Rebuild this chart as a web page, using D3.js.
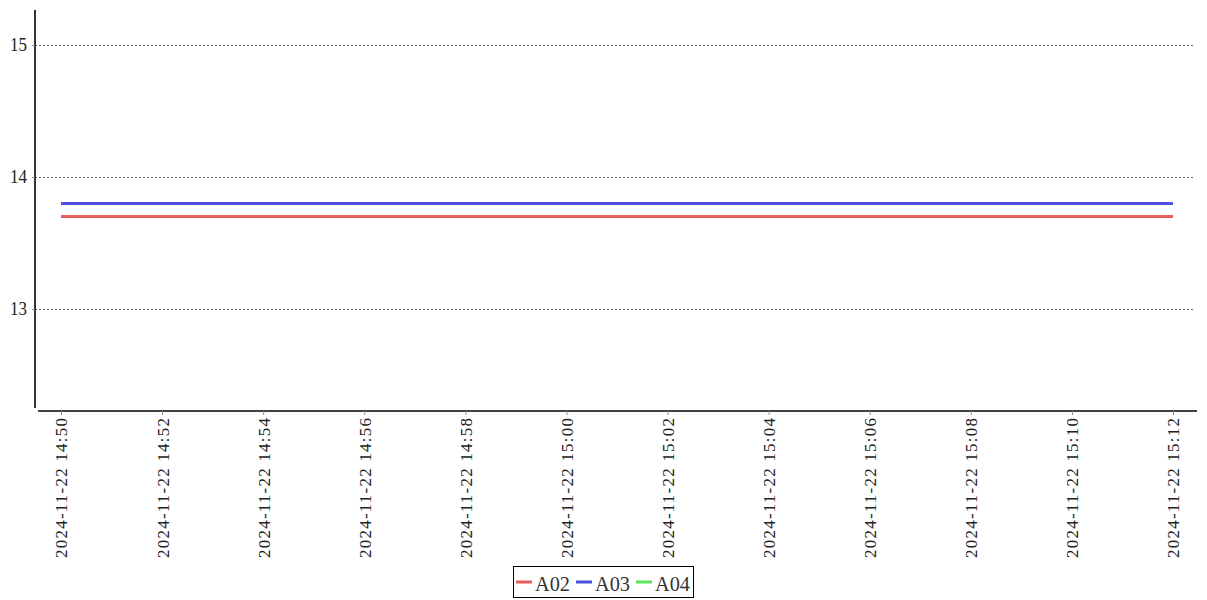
<!DOCTYPE html>
<html><head><meta charset="utf-8">
<script src="https://cdn.jsdelivr.net/npm/d3@7"></script>
<style>body{margin:0;background:#fff}svg{display:block}text{font-family:"Liberation Serif","Times New Roman",serif}</style>
</head><body><svg id="c" width="1207" height="600"></svg>
<script>
const times = ["2024-11-22 14:50","2024-11-22 14:52","2024-11-22 14:54","2024-11-22 14:56","2024-11-22 14:58","2024-11-22 15:00","2024-11-22 15:02","2024-11-22 15:04","2024-11-22 15:06","2024-11-22 15:08","2024-11-22 15:10","2024-11-22 15:12"];
const seriesNames = ["A02","A03","A04"];
const seriesColors = ["#e85c5c","#5050e0","#5ae65a"];
const a02 = [13.7,13.7,13.7,13.7,13.7,13.7,13.7,13.7,13.7,13.7,13.7,13.7];
const a03 = [13.8,13.8,13.8,13.8,13.8,13.8,13.8,13.8,13.8,13.8,13.8,13.8];
const a04 = [];
const yTicks = [13,14,15];

const parse = d3.timeParse("%Y-%m-%d %H:%M");
const fmt = d3.timeFormat("%Y-%m-%d  %H:%M");
const svg = d3.select("#c");
const x = d3.scaleTime().domain([parse(times[0]), parse(times[times.length-1])]).range([61,1173]);
const y = d3.scaleLinear().domain([12.25,15.265]).range([408,10]);

// grid
svg.append("g").selectAll("line").data(yTicks).join("line")
  .attr("x1",35).attr("x2",1195).attr("y1",d=>y(d)+0.5).attr("y2",d=>y(d)+0.5)
  .attr("stroke","#666").attr("stroke-width",1).attr("stroke-dasharray","2,2");

// y axis
const ya = svg.append("g").attr("transform","translate(35,0)")
  .call(d3.axisLeft(y).tickValues(yTicks).tickSize(3).tickFormat(d3.format("d")));
ya.select(".domain").attr("d","M0,10V408").attr("stroke","#000").attr("stroke-width",1.6);
ya.selectAll(".tick line").attr("stroke","#888");
ya.selectAll("text").attr("font-size",18).attr("fill","#222").attr("x",-8)
  .attr("textLength",17).attr("lengthAdjust","spacingAndGlyphs");

// x axis
const xa = svg.append("g").attr("transform","translate(0,411)")
  .call(d3.axisBottom(x).tickValues(times.map(parse)).tickSize(4).tickFormat(fmt));
xa.select(".domain").attr("d","M38,0H1197").attr("stroke","#000").attr("stroke-width",1.6);
xa.selectAll(".tick line").attr("stroke","#888");
xa.selectAll("text").attr("font-size",17).attr("fill","#222")
  .attr("transform","rotate(-90)").attr("text-anchor","end")
  .attr("x",-7).attr("y",0).attr("dy","0.35em")
  .attr("textLength",140).attr("lengthAdjust","spacing");

// lines
const data = [a02,a03,a04];
const line = d3.line().x((d,i)=>x(parse(times[i]))).y(d=>y(d));
data.forEach((vals,k)=>{
  if(!vals.length) return;
  svg.append("path").datum(vals).attr("d",line).attr("fill","none")
    .attr("stroke",seriesColors[k]).attr("stroke-width",3);
});

// legend
const lg = svg.append("g");
lg.append("rect").attr("x",513.5).attr("y",566.5).attr("width",180).attr("height",31)
  .attr("fill","#fff").attr("stroke","#000").attr("stroke-width",1);
const lx = [516,576,636];
seriesNames.forEach((n,i)=>{
  lg.append("line").attr("x1",lx[i]).attr("x2",lx[i]+16).attr("y1",582).attr("y2",582)
    .attr("stroke",seriesColors[i]).attr("stroke-width",3);
  lg.append("text").attr("x",lx[i]+19).attr("y",591).attr("font-size",22).attr("fill","#333")
    .attr("textLength",35).attr("lengthAdjust","spacingAndGlyphs").text(n);
});
</script></body></html>
